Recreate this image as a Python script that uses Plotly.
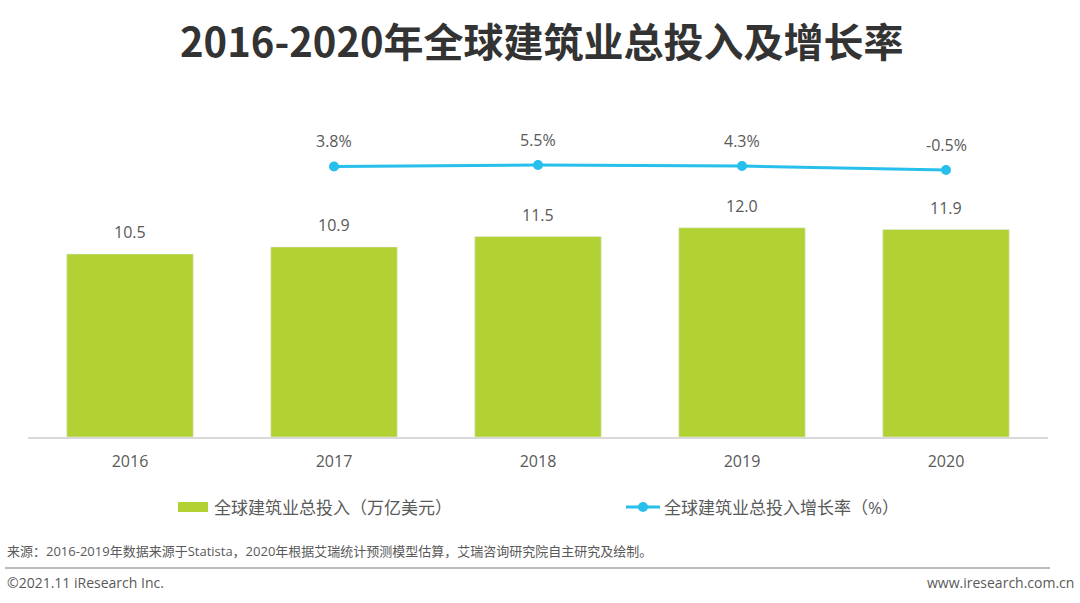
import plotly.graph_objects as go

years = ["2016", "2017", "2018", "2019", "2020"]
investment = [10.5, 10.9, 11.5, 12.0, 11.9]
growth_years = ["2017", "2018", "2019", "2020"]
growth = [3.8, 5.5, 4.3, -0.5]

title = "2016-2020年全球建筑业总投入及增长率"
bar_name = "全球建筑业总投入（万亿美元）"
line_name = "全球建筑业总投入增长率（%）"
source = "来源：2016-2019年数据来源于Statista，2020年根据艾瑞统计预测模型估算，艾瑞咨询研究院自主研究及绘制。"
copyright_txt = "©2021.11 iResearch Inc."
website = "www.iresearch.com.cn"

FONT = "Open Sans, Noto Sans CJK SC, sans-serif"
BAR_C = "#b2d234"
LINE_C = "#27bfeb"
TXT_C = "#595959"

W, H = 1080, 603
L, R, T, B = 28, 32, 100, 166
PW, PH = W - L - R, H - T - B


def dx(px):
    return (px - L) / PW


def dy(py):
    return (H - B - py) / PH


fig = go.Figure()
fig.add_trace(go.Bar(x=years, y=investment, marker_color=BAR_C, width=0.62,
                     name=bar_name, showlegend=False, hoverinfo="skip"))
fig.add_trace(go.Scatter(x=growth_years, y=growth, yaxis="y2", mode="lines+markers",
                         line=dict(color=LINE_C, width=3),
                         marker=dict(color=LINE_C, size=10),
                         name=line_name, showlegend=False, hoverinfo="skip"))

for x, v in zip(years, investment):
    fig.add_annotation(x=years.index(x), y=v, xref="x", yref="y", text=f"{v:.1f}",
                       showarrow=False, yanchor="bottom", yshift=9,
                       font=dict(size=16, color=TXT_C, family=FONT))
for x, v in zip(growth_years, growth):
    fig.add_annotation(x=years.index(x), y=v, xref="x", yref="y2", text=f"{v:.1f}%",
                       showarrow=False, yanchor="bottom", yshift=12,
                       font=dict(size=16, color=TXT_C, family=FONT))

fig.update_layout(
    width=W, height=H,
    margin=dict(l=L, r=R, t=T, b=B),
    plot_bgcolor="white", paper_bgcolor="white",
    font=dict(family=FONT, color=TXT_C),
    xaxis=dict(type="category", range=[-0.5, len(years) - 0.5], showline=True,
               linecolor="#d9d9d9", linewidth=2, ticks="", ticklabelstandoff=9,
               tickfont=dict(size=16, color=TXT_C), showgrid=False),
    yaxis=dict(range=[0, 19.33], visible=False, showgrid=False),
    yaxis2=dict(range=[-320.9, 83.5], overlaying="y", visible=False, showgrid=False),
    showlegend=False,
)

# Title
fig.add_annotation(xref="x domain", yref="y domain", x=dx(542), y=dy(40), xanchor="center",
                   yanchor="middle", showarrow=False, text=f"<b>{title}</b>",
                   font=dict(size=40, color="#333333", family="Noto Sans CJK SC, sans-serif"))

# Manual legend
fig.add_shape(type="rect", xref="x domain", yref="y domain",
              x0=dx(178), x1=dx(208), y0=dy(512), y1=dy(502),
              fillcolor=BAR_C, line_width=0)
fig.add_shape(type="line", xref="x domain", yref="y domain",
              x0=dx(626), x1=dx(660), y0=dy(507), y1=dy(507),
              line=dict(color=LINE_C, width=3))
fig.add_shape(type="circle", xref="x domain", yref="y domain",
              x0=dx(638), x1=dx(648), y0=dy(512), y1=dy(502),
              fillcolor=LINE_C, line_width=0)
fig.add_annotation(xref="x domain", yref="y domain", x=dx(212), y=dy(507),
                   xanchor="left", yanchor="middle", showarrow=False, text=bar_name,
                   font=dict(size=17, color=TXT_C, family=FONT))
fig.add_annotation(xref="x domain", yref="y domain", x=dx(662), y=dy(507),
                   xanchor="left", yanchor="middle", showarrow=False, text=line_name,
                   font=dict(size=17, color=TXT_C, family=FONT))

# Footer
fig.add_annotation(xref="x domain", yref="y domain", x=dx(5), y=dy(551),
                   xanchor="left", yanchor="middle", showarrow=False, text=source,
                   font=dict(size=13, color=TXT_C, family=FONT))
fig.add_shape(type="line", xref="x domain", yref="y domain",
              x0=dx(5), x1=dx(1050), y0=dy(568), y1=dy(568),
              line=dict(color="#a6a6a6", width=1.5))
fig.add_annotation(xref="x domain", yref="y domain", x=dx(5), y=dy(582),
                   xanchor="left", yanchor="middle", showarrow=False, text=copyright_txt,
                   font=dict(size=14, color=TXT_C, family=FONT))
fig.add_annotation(xref="x domain", yref="y domain", x=dx(1076), y=dy(582),
                   xanchor="right", yanchor="middle", showarrow=False, text=website,
                   font=dict(size=14, color=TXT_C, family=FONT))

fig.write_html("out.html", config={"displayModeBar": False},
               post_script="document.body.style.margin='0';")
